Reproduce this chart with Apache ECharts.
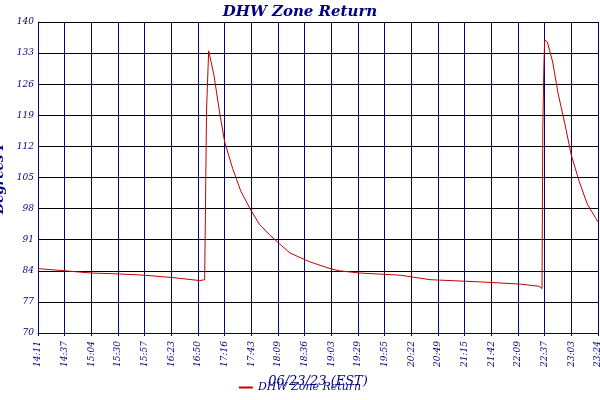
<!DOCTYPE html><html><head><meta charset="utf-8"><script src="https://cdn.jsdelivr.net/npm/echarts@6/dist/echarts.min.js"></script></head><body style="margin:0"><div id="c" style="width:600px;height:400px"></div><script>
var tickLabels=['14:11','14:37','15:04','15:30','15:57','16:23','16:50','17:16','17:43','18:09','18:36','19:03','19:29','19:55','20:22','20:49','21:15','21:42','22:09','22:37','23:03','23:24'];
var xs=[0,1,2,3,4,5,6.07,6.25,6.32,6.4,6.6,6.8,7.0,7.3,7.6,7.95,8.3,8.7,9.07,9.45,10.2,10.95,11.3,12.07,13.6,14.7,16.6,18.1,18.8,18.9,18.93,18.97,19.0,19.1,19.3,19.5,19.76,20.0,20.3,20.6,20.9,21];
var ys=[84.5,84,83.5,83.3,83,82.5,81.8,82,120,133.5,128,120,113,107,102,98,94.5,92,90,88,86,84.5,84,83.5,83,82,81.5,81,80.5,80,116,130,136,135.5,131,124,117,110,104,99,96,95];
var tc='#000080';
var ch=echarts.init(document.getElementById('c'));
ch.setOption({animation:false,
title:{text:'DHW Zone Return',left:'center',top:0,textStyle:{color:tc,fontStyle:'italic',fontWeight:'bold',fontSize:15,fontFamily:'DejaVu Serif'}},
legend:{bottom:2,left:'center',data:['DHW Zone Return'],icon:'rect',itemWidth:14,itemHeight:2,textStyle:{color:tc,fontStyle:'italic',fontSize:11,fontFamily:'DejaVu Serif'}},
grid:{left:38,right:2,top:22,bottom:67,containLabel:false,outerBoundsMode:'none'},
xAxis:{type:'value',min:0,max:21,interval:1,name:'06/23/23 (EST)',nameLocation:'middle',nameGap:38,nameTextStyle:{color:tc,fontStyle:'italic',fontSize:13,fontFamily:'DejaVu Serif'},
axisLine:{lineStyle:{color:tc}},axisTick:{show:true,length:3,lineStyle:{color:tc}},splitLine:{lineStyle:{color:tc,width:1}},
axisLabel:{rotate:90,color:tc,fontStyle:'italic',fontSize:9,fontFamily:'DejaVu Serif',showMaxLabel:true,formatter:function(v){return tickLabels[Math.round(v)]}}},
yAxis:{type:'value',min:70,max:140,interval:7,name:'Degrees F',nameLocation:'middle',nameGap:24,nameTextStyle:{color:tc,fontStyle:'italic',fontWeight:'bold',fontSize:13,fontFamily:'DejaVu Serif'},
axisLine:{show:true,lineStyle:{color:tc}},axisTick:{show:false},splitLine:{lineStyle:{color:'#000',width:1}},
axisLabel:{color:tc,fontStyle:'italic',fontSize:9,fontFamily:'DejaVu Serif',margin:4}},
series:[{name:'DHW Zone Return',type:'line',data:xs.map(function(x,i){return [x,ys[i]]}),showSymbol:false,lineStyle:{color:'#c00000',width:1},itemStyle:{color:'#c00000'}}]
});
</script></body></html>
